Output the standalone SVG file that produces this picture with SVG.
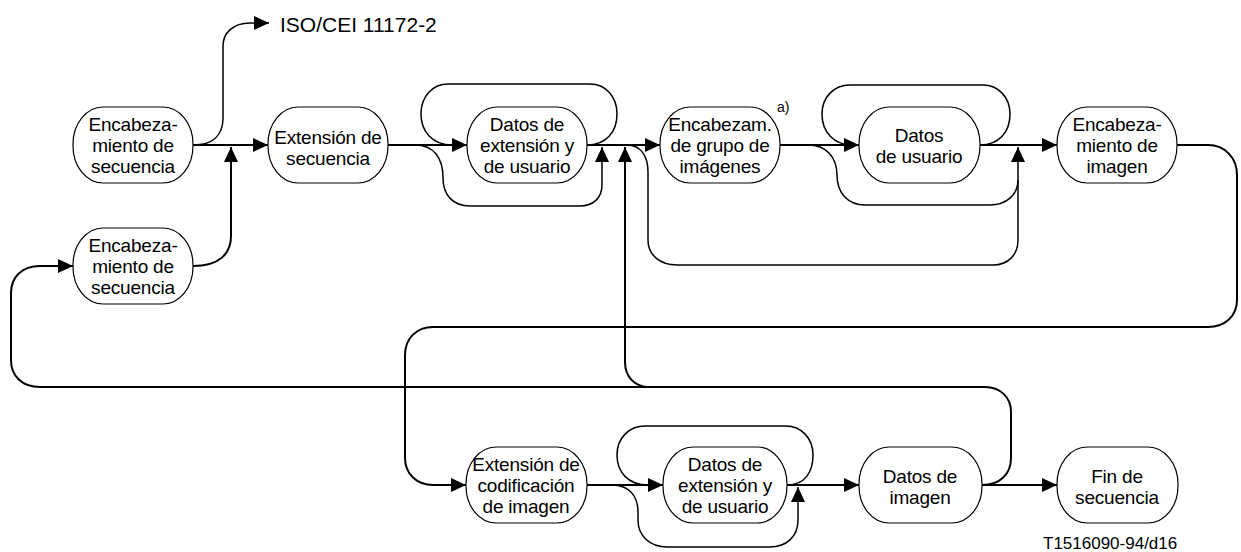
<svg xmlns="http://www.w3.org/2000/svg" width="1241" height="552" viewBox="0 0 1241 552">
<style>
.nd{fill:#fff;stroke:#000;stroke-width:1.2}
.t{font-family:"Liberation Sans",Arial,sans-serif;font-size:19px;letter-spacing:-0.2px;text-anchor:middle;fill:#000}
.m{fill:none;stroke:#000;stroke-width:2}
.l{fill:none;stroke:#000;stroke-width:1.5}
.lbl{font-family:"Liberation Sans",Arial,sans-serif;fill:#000}
</style>
<defs>
<marker id="ah" markerUnits="userSpaceOnUse" markerWidth="16" markerHeight="15" refX="15" refY="7" orient="auto">
<path d="M0,0 L15,7 L0,14 z" fill="#000"/>
</marker>
</defs>
<rect width="1241" height="552" fill="#fff"/>
<g id="connectors">
<path class="m" d="M193,145 H268" marker-end="url(#ah)"/>
<path class="l" d="M193,145 C213,145 223,135 223,118 V46 C223,33 233,23 250,23 H269" marker-end="url(#ah)"/>
<path class="m" d="M193,266 C219,266 231,254 231,236 V147" marker-end="url(#ah)"/>
<path class="m" d="M388,145 H467" marker-end="url(#ah)"/>
<path class="l" d="M587,145 C606,145 617,132 617,114 C617,96 605,84 590,84 H448 C433,84 421,96 421,114 C421,132 433,145 452,145"/>
<path class="l" d="M415,145 C434,145 443,158 443,178 C443,195 453,206 470,206 H580 C593,206 602,198 602,185 V147" marker-end="url(#ah)"/>
<path class="m" d="M587,145 H660" marker-end="url(#ah)"/>
<path class="m" d="M649,387 C635,387 625,377 625,362 V147" marker-end="url(#ah)"/>
<path class="l" d="M627,145 C640,145 648,155 648,172 V240 C648,255 660,265 677,265 H993 C1008,265 1018,255 1018,240 V147" marker-end="url(#ah)"/>
<path class="m" d="M780,145 H859" marker-end="url(#ah)"/>
<path class="l" d="M980,145 C999,145 1010,132 1010,114 C1010,97 998,85 983,85 H850 C834,85 822,97 822,114 C822,132 834,145 852,145"/>
<path class="l" d="M808,145 C826,145 837,157 837,175 C837,193 848,205 865,205 H990 C1006,205 1018,195 1018,180"/>
<path class="m" d="M980,145 H1057" marker-end="url(#ah)"/>
<path class="m" d="M1177,145 H1208 C1225,145 1237,158 1237,175 V300 C1237,316 1225,327 1208,327 H433 C417,327 405,338 405,355 V458 C405,474 417,485 433,485 H466" marker-end="url(#ah)"/>
<path class="m" d="M982,485 C1000,485 1011,474 1011,458 V412 C1011,397 1000,387 985,387 H40 C22,387 11,376 11,360 V293 C11,277 22,266 40,266 H73" marker-end="url(#ah)"/>
<path class="m" d="M587,485 H663" marker-end="url(#ah)"/>
<path class="l" d="M787,485 C805,485 813,472 813,455 C813,438 801,426 786,426 H645 C629,426 617,438 617,455 C617,472 628,485 648,485"/>
<path class="l" d="M612,485 C630,485 638,497 638,512 V520 C638,536 650,547 667,547 H770 C786,547 798,537 798,520 V487" marker-end="url(#ah)"/>
<path class="m" d="M787,485 H859" marker-end="url(#ah)"/>
<path class="m" d="M982,485 H1057" marker-end="url(#ah)"/>
</g>
<g id="n1"><rect class="nd" x="73" y="107" width="120" height="76" rx="30" ry="37"/>
<text class="t" x="133" y="131">Encabeza-</text><text class="t" x="133" y="152">miento de</text><text class="t" x="133" y="173">secuencia</text></g>
<g id="n2"><rect class="nd" x="268" y="107" width="120" height="76" rx="30" ry="37"/>
<text class="t" x="328" y="144">Extensión de</text><text class="t" x="328" y="165">secuencia</text></g>
<g id="n3"><rect class="nd" x="467" y="107" width="120" height="76" rx="30" ry="37"/>
<text class="t" x="527" y="131">Datos de</text><text class="t" x="527" y="152">extensión y</text><text class="t" x="527" y="173">de usuario</text></g>
<g id="n4"><rect class="nd" x="660" y="107" width="120" height="76" rx="30" ry="37"/>
<text class="t" x="720" y="131">Encabezam.</text><text class="t" x="720" y="152">de grupo de</text><text class="t" x="720" y="173">imágenes</text></g>
<g id="n5"><rect class="nd" x="859" y="107" width="121" height="76" rx="30" ry="37"/>
<text class="t" x="919" y="142">Datos</text><text class="t" x="919" y="163">de usuario</text></g>
<g id="n6"><rect class="nd" x="1057" y="107" width="120" height="76" rx="30" ry="37"/>
<text class="t" x="1117" y="131">Encabeza-</text><text class="t" x="1117" y="152">miento de</text><text class="t" x="1117" y="173">imagen</text></g>
<g id="n7"><rect class="nd" x="73" y="228" width="120" height="76" rx="30" ry="37"/>
<text class="t" x="133" y="252">Encabeza-</text><text class="t" x="133" y="273">miento de</text><text class="t" x="133" y="294">secuencia</text></g>
<g id="n8"><rect class="nd" x="466" y="447" width="121" height="76" rx="30" ry="37"/>
<text class="t" x="526" y="471">Extensión de</text><text class="t" x="526" y="492">codificación</text><text class="t" x="526" y="513">de imagen</text></g>
<g id="n9"><rect class="nd" x="663" y="447" width="124" height="76" rx="30" ry="37"/>
<text class="t" x="725" y="471">Datos de</text><text class="t" x="725" y="492">extensión y</text><text class="t" x="725" y="513">de usuario</text></g>
<g id="n10"><rect class="nd" x="859" y="447" width="123" height="76" rx="30" ry="37"/>
<text class="t" x="920" y="483">Datos de</text><text class="t" x="920" y="504">imagen</text></g>
<g id="n11"><rect class="nd" x="1057" y="447" width="121" height="76" rx="30" ry="37"/>
<text class="t" x="1117" y="483">Fin de</text><text class="t" x="1117" y="504">secuencia</text></g>
<g id="labels">
<text class="lbl" x="280" y="32" font-size="21">ISO/CEI 11172-2</text>
<text class="lbl" x="777" y="112" font-size="14">a)</text>
<text class="lbl" x="1043" y="549" font-size="17">T1516090-94/d16</text>
</g>
</svg>
